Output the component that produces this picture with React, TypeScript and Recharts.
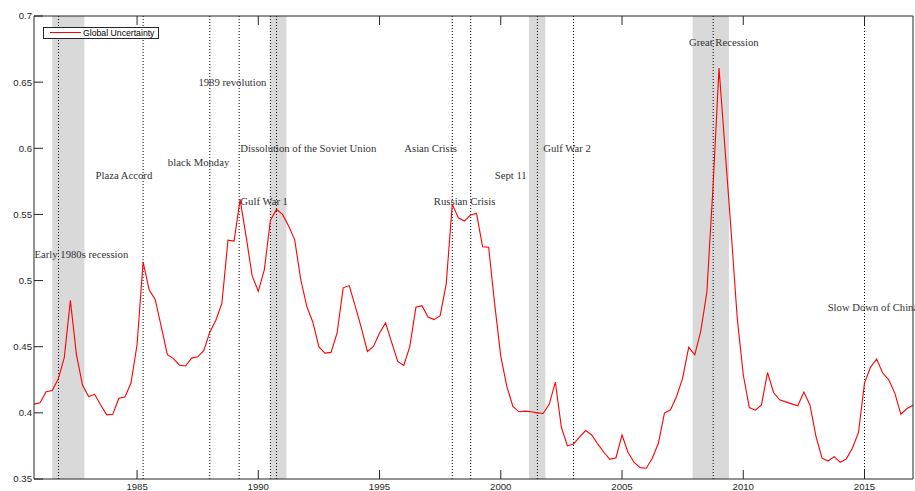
import React from "react";
import {
  LineChart,
  Line,
  XAxis,
  YAxis,
  ReferenceArea,
  ReferenceLine,
  ReferenceDot,
  Legend,
} from "recharts";

// Quarterly global uncertainty index, 1980Q4 .. 2017Q1
const firstQuarter = 1980.75;
const uncertainty = [
  0.4066, 0.4076, 0.416, 0.4169, 0.4255, 0.442, 0.485, 0.444, 0.421, 0.4124,
  0.414, 0.406, 0.3985, 0.399, 0.411, 0.412, 0.4225, 0.4515, 0.514, 0.493,
  0.4856, 0.465, 0.444, 0.441, 0.436, 0.4354, 0.4414, 0.4424, 0.447, 0.461,
  0.47, 0.483, 0.5305, 0.5298, 0.5614, 0.533, 0.5033, 0.4919, 0.5083, 0.5457,
  0.5538, 0.55, 0.5412, 0.531, 0.5008, 0.4805, 0.4685, 0.4498, 0.4452, 0.4457,
  0.4604, 0.4945, 0.4962, 0.4805, 0.4642, 0.4464, 0.4502, 0.4604, 0.468, 0.4533,
  0.4389, 0.4359, 0.4502, 0.4798, 0.481, 0.4725, 0.4705, 0.4735, 0.4975, 0.5576,
  0.5475, 0.545, 0.5495, 0.5508, 0.5255, 0.5252, 0.482, 0.4427, 0.42, 0.4048,
  0.4008, 0.4013, 0.4008, 0.4, 0.3995, 0.4066, 0.4233, 0.3889, 0.375, 0.3765,
  0.3816, 0.3866, 0.3833, 0.3765, 0.3702, 0.3649, 0.3661, 0.3833, 0.37, 0.3625,
  0.3586, 0.3581, 0.3657, 0.377, 0.3998, 0.4023, 0.4124, 0.4263, 0.4495, 0.4439,
  0.462, 0.4915, 0.57, 0.6606, 0.599, 0.537, 0.472, 0.4288, 0.404, 0.402,
  0.406, 0.4305, 0.4154, 0.4098, 0.4083, 0.4068, 0.4053, 0.4157, 0.406, 0.3821,
  0.3657, 0.3636, 0.3669, 0.3626, 0.3652, 0.3733, 0.385, 0.4225, 0.4346, 0.4407,
  0.4301, 0.425, 0.4149, 0.399, 0.4033, 0.4058,
];

const xTicks = [1985, 1990, 1995, 2000, 2005, 2010, 2015];
const yTicks = [0.35, 0.4, 0.45, 0.5, 0.55, 0.6, 0.65, 0.7];
const xDomain = [1980.75, 2017];
const yDomain = [0.35, 0.7];

// NBER recessions
const recessionStart = [1981.5, 1990.5, 2001.16, 2007.91];
const recessionEnd = [1982.83, 1991.16, 2001.84, 2009.41];

// Dates of the events marked with dotted lines
const eventYears = [
  1981.76, 1985.25, 1988.0, 1989.21, 1990.5, 1990.75, 1998.0, 1998.76, 2001.51,
  2003.0, 2008.76, 2015.0,
];

// Event captions and where they sit
const captionText = [
  "Early 1980s recession",
  "Plaza Accord",
  "black Monday",
  "1989 revolution",
  "Dissolution of the Soviet Union",
  "Gulf War 1",
  "Asian Crisis",
  "Russian Crisis",
  "Sept 11",
  "Gulf War 2",
  "Great Recession",
  "Slow Down of China",
];
const captionYear = [
  1980.77, 1983.29, 1986.27, 1987.53, 1989.26, 1989.26, 1996.02, 1997.24,
  1999.75, 2001.75, 2007.76, 2013.48,
];
const captionLevel = [
  0.52, 0.58, 0.59, 0.65, 0.6, 0.56, 0.6, 0.56, 0.58, 0.6, 0.68, 0.48,
];

const rows = uncertainty.map((v, i) => ({ t: firstQuarter + i / 4, v }));

const AXIS = "#262626";
const SERIES = "#ff0000";
const tickFont = { fontFamily: "Liberation Sans, Arial, sans-serif", fontSize: 9.6, fill: AXIS };

const blank = () => "";

const LegendBox = () => (
  <div
    style={{
      width: 114,
      height: 10,
      border: `1px solid ${AXIS}`,
      background: "#fff",
      position: "relative",
      fontFamily: "Liberation Sans, Arial, sans-serif",
      fontSize: 8.7,
      color: "#000",
      lineHeight: "10px",
    }}
  >
    <span
      style={{
        position: "absolute",
        left: 6,
        top: 4,
        width: 31,
        height: 0,
        borderTop: `1px solid ${SERIES}`,
      }}
    />
    <span style={{ position: "absolute", left: 39, top: 0, whiteSpace: "nowrap" }}>
      Global Uncertainty
    </span>
  </div>
);

const makeCaption = (text: string) => (props: any) => {
  const vb = props.viewBox || {};
  return (
    <text
      x={vb.x}
      y={vb.y}
      dominantBaseline="central"
      fontFamily="Liberation Serif, Times New Roman, serif"
      fontSize={10.7}
      fill="#333"
    >
      {text}
    </text>
  );
};

export default function App() {
  return (
    <div style={{ position: "absolute", left: 0, top: 0, background: "#fff" }}>
      <LineChart
        width={915}
        height={491}
        data={rows}
        margin={{ top: 0, right: 0, bottom: 0, left: 0 }}
      >
        <XAxis
          xAxisId="b"
          dataKey="t"
          type="number"
          domain={xDomain}
          ticks={xTicks}
          interval={0}
          orientation="bottom"
          height={12}
          tickSize={-9}
          tickMargin={13}
          stroke={AXIS}
          tick={tickFont}
        />
        <XAxis
          xAxisId="t"
          dataKey="t"
          type="number"
          domain={xDomain}
          ticks={xTicks}
          interval={0}
          orientation="top"
          height={16}
          tickSize={-9}
          tickFormatter={blank}
          stroke={AXIS}
        />
        <YAxis
          yAxisId="l"
          type="number"
          domain={yDomain}
          ticks={yTicks}
          interval={0}
          width={34}
          tickSize={-9}
          tickMargin={11}
          stroke={AXIS}
          tick={tickFont}
        />
        <YAxis
          yAxisId="r"
          type="number"
          orientation="right"
          domain={yDomain}
          ticks={yTicks}
          interval={0}
          width={2}
          tickSize={-9}
          tickFormatter={blank}
          stroke={AXIS}
        />
        {recessionStart.map((s, i) => (
          <ReferenceArea
            key={`rec-${i}`}
            xAxisId="b"
            yAxisId="l"
            x1={s}
            x2={recessionEnd[i]}
            fill="#d9d9d9"
            fillOpacity={1}
            stroke="none"
          />
        ))}
        {eventYears.map((yr, i) => (
          <ReferenceLine
            key={`ev-${i}`}
            xAxisId="b"
            yAxisId="l"
            x={yr}
            stroke="#000"
            strokeWidth={1}
            strokeDasharray="1 2"
          />
        ))}
        <Line
          xAxisId="b"
          yAxisId="l"
          type="linear"
          dataKey="v"
          name="Global Uncertainty"
          stroke={SERIES}
          strokeWidth={1.1}
          dot={false}
          activeDot={false}
          isAnimationActive={false}
        />
        {captionText.map((txt, i) => (
          <ReferenceDot
            key={`cap-${i}`}
            xAxisId="b"
            yAxisId="l"
            x={captionYear[i]}
            y={captionLevel[i]}
            r={0}
            fill="none"
            stroke="none"
            label={{ content: makeCaption(txt) }}
          />
        ))}
        <Legend
          layout="vertical"
          align="center"
          verticalAlign="middle"
          wrapperStyle={{ left: 43, top: 27, width: "auto" }}
          content={() => <LegendBox />}
        />
      </LineChart>
    </div>
  );
}
